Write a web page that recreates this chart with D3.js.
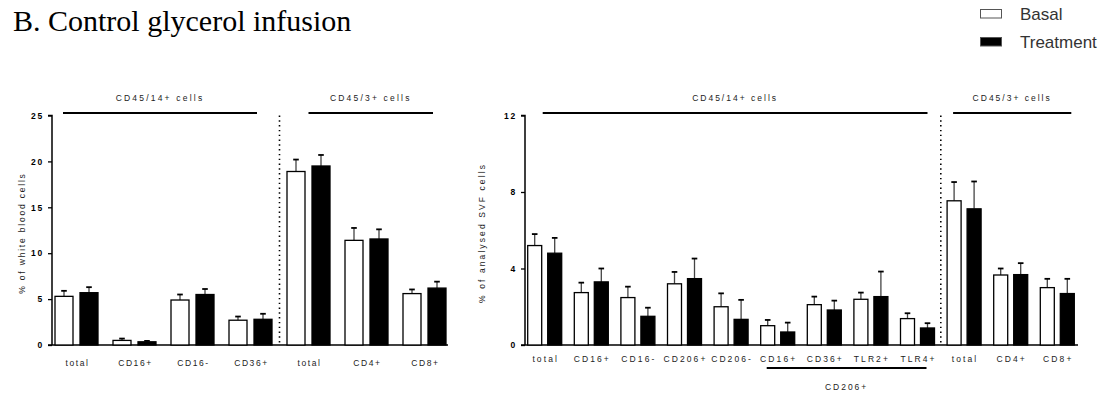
<!DOCTYPE html>
<html>
<head>
<meta charset="utf-8">
<script src="https://cdn.jsdelivr.net/npm/d3@7"></script>
<style>
  body { margin: 0; background: #fff; }
  svg text { font-family: "Liberation Sans", Arial, sans-serif; fill: #000; }
</style>
</head>
<body>
<svg id="chart" width="1118" height="396"></svg>
<script>
// ---- data ----
const leftCategories = ['total', 'CD16+', 'CD16-', 'CD36+', 'total', 'CD4+', 'CD8+']
const leftBasal      = [5.3, 0.5, 4.9, 2.7, 18.9, 11.4, 5.6]
const leftBasalErr   = [0.6, 0.2, 0.6, 0.4, 1.3, 1.35, 0.45]
const leftTreat      = [5.7, 0.35, 5.5, 2.8, 19.5, 11.55, 6.2]
const leftTreatErr   = [0.6, 0.1, 0.6, 0.6, 1.2, 1.05, 0.7]
const leftTicks      = [0, 5, 10, 15, 20, 25]

const rightCategories = ['total', 'CD16+', 'CD16-', 'CD206+', 'CD206-', 'CD16+', 'CD36+', 'TLR2+', 'TLR4+', 'total', 'CD4+', 'CD8+']
const rightBasal      = [5.2, 2.74, 2.48, 3.2, 2.0, 1.01, 2.11, 2.39, 1.38, 7.54, 3.66, 3.0]
const rightBasalErr   = [0.6, 0.52, 0.57, 0.62, 0.7, 0.3, 0.42, 0.35, 0.28, 0.98, 0.34, 0.46]
const rightTreat      = [4.8, 3.3, 1.5, 3.47, 1.34, 0.68, 1.83, 2.53, 0.89, 7.12, 3.68, 2.69]
const rightTreatErr   = [0.8, 0.7, 0.45, 1.05, 1.02, 0.49, 0.49, 1.31, 0.25, 1.43, 0.6, 0.77]
const rightTicks      = [0, 4, 8, 12]

const svg = d3.select('#chart')

// title + legend
svg.append('text')
  .attr('x', 13).attr('y', 31)
  .style('font-family', '"Liberation Serif", "Times New Roman", serif')
  .style('font-size', '30px')
  .text('B. Control glycerol infusion')

const legend = svg.append('g').attr('transform', 'translate(980, 9)')
;[['Basal', '#fff'], ['Treatment', '#000']].forEach((d, i) => {
  legend.append('rect')
    .attr('x', 0.5).attr('y', i * 28 + 0.5)
    .attr('width', 21).attr('height', 8.5)
    .attr('fill', d[1]).attr('stroke', '#555').attr('stroke-width', 1)
  legend.append('text')
    .attr('x', 40).attr('y', i * 28 + 11)
    .style('font-size', '17px')
    .style('fill', '#333')
    .text(d[0])
})

function drawPanel(opt) {
  const g = svg.append('g')
  const n = opt.categories.length
  const x = d3.scaleBand().domain(d3.range(n)).range(opt.xRange).padding(0)
  const y = d3.scaleLinear().domain([0, opt.yMax]).range([345, 115.5])
  const cx = i => x(i) + x.bandwidth() / 2

  // y axis
  const yAxis = d3.axisLeft(y).tickValues(opt.ticks).tickSize(4).tickPadding(4)
  const ya = g.append('g').attr('transform', `translate(${opt.axisX},0)`).call(yAxis)
  ya.select('.domain').attr('stroke-width', 1.5).attr('d', `M-4,${y(opt.yMax)}H0V${y(0)}`)
  ya.selectAll('.tick line').attr('stroke-width', 1.3)
  ya.selectAll('.tick text')
    .style('font-size', '8.5px').style('font-weight', 'bold')
    .style('letter-spacing', '1.8px').style('font-family', '"Liberation Sans", Arial, sans-serif')

  // x axis line
  g.append('line')
    .attr('x1', opt.axisX - 4).attr('x2', opt.axisEnd)
    .attr('y1', y(0)).attr('y2', y(0))
    .attr('stroke', '#000').attr('stroke-width', 1.5)

  // y label
  g.append('text')
    .attr('transform', `translate(${opt.labelX},${233}) rotate(-90)`)
    .attr('text-anchor', 'middle')
    .style('font-size', '8.5px').style('letter-spacing', opt.labelSpacing)
    .style('fill', '#222')
    .text(opt.yLabel)

  const series = [
    { vals: opt.basal, errs: opt.basalErr, fill: '#fff', off: -opt.gap / 2 - opt.barW },
    { vals: opt.treat, errs: opt.treatErr, fill: '#000', off: opt.gap / 2 }
  ]

  series.forEach(s => {
    // error bars (upper only)
    const eb = g.append('g')
    eb.selectAll('line.stem').data(s.vals).enter().append('line')
      .attr('x1', (d, i) => cx(i) + s.off + opt.barW / 2)
      .attr('x2', (d, i) => cx(i) + s.off + opt.barW / 2)
      .attr('y1', d => y(d))
      .attr('y2', (d, i) => y(d + s.errs[i]))
      .attr('stroke', '#444').attr('stroke-width', 1.3)
    eb.selectAll('line.cap').data(s.vals).enter().append('line')
      .attr('x1', (d, i) => cx(i) + s.off + opt.barW / 2 - 2.8)
      .attr('x2', (d, i) => cx(i) + s.off + opt.barW / 2 + 2.8)
      .attr('y1', (d, i) => y(d + s.errs[i]))
      .attr('y2', (d, i) => y(d + s.errs[i]))
      .attr('stroke', '#000').attr('stroke-width', 1.8)

    g.selectAll(null).data(s.vals).enter().append('rect')
      .attr('x', (d, i) => cx(i) + s.off)
      .attr('y', d => y(d))
      .attr('width', opt.barW)
      .attr('height', d => y(0) - y(d))
      .attr('fill', s.fill)
      .attr('stroke', '#000').attr('stroke-width', 1.3)
  })

  // category labels
  g.selectAll(null).data(opt.categories).enter().append('text')
    .attr('x', (d, i) => cx(i) + 1)
    .attr('y', opt.catY)
    .attr('text-anchor', 'middle')
    .style('font-size', '8.5px').style('letter-spacing', opt.catSpacing)
    .style('fill', '#222')
    .text(d => d)

  // dotted separator
  const sepX = x(opt.split)
  g.append('line')
    .attr('x1', sepX).attr('x2', sepX)
    .attr('y1', y(opt.yMax)).attr('y2', y(0))
    .attr('stroke', '#000').attr('stroke-width', 1.6)
    .attr('stroke-dasharray', '1.4,3.4')

  // group brackets on top
  opt.groups.forEach(gr => {
    const x1 = cx(gr.from) + gr.o1, x2 = cx(gr.to) + gr.o2
    g.append('line')
      .attr('x1', x1).attr('x2', x2).attr('y1', 113).attr('y2', 113)
      .attr('stroke', '#000').attr('stroke-width', 2)
    g.append('text')
      .attr('x', (x1 + x2) / 2 + gr.dx).attr('y', 101)
      .attr('text-anchor', 'middle')
      .style('font-size', '8.5px').style('letter-spacing', opt.headSpacing)
      .style('fill', '#222')
      .text(gr.label)
  })

  // bottom bracket
  if (opt.sub) {
    const x1 = cx(opt.sub.from) + opt.sub.o1, x2 = cx(opt.sub.to) + opt.sub.o2
    g.append('line')
      .attr('x1', x1).attr('x2', x2).attr('y1', 368).attr('y2', 368)
      .attr('stroke', '#000').attr('stroke-width', 2)
    g.append('text')
      .attr('x', (x1 + x2) / 2).attr('y', 390)
      .attr('text-anchor', 'middle')
      .style('font-size', '8.5px').style('letter-spacing', '2px')
      .style('fill', '#222')
      .text(opt.sub.label)
  }
}

drawPanel({
  categories: leftCategories, basal: leftBasal, basalErr: leftBasalErr,
  treat: leftTreat, treatErr: leftTreatErr, ticks: leftTicks, yMax: 25,
  xRange: [47.5, 453.5], axisX: 52, axisEnd: 448, barW: 18, gap: 7,
  labelX: 25, yLabel: '% of white blood cells', labelSpacing: '1.8px',
  catY: 366, catSpacing: '1.6px', split: 4, headSpacing: '2.2px',
  groups: [
    { from: 0, to: 3, o1: -13.5, o2: 6.5, label: 'CD45/14+ cells', dx: 0 },
    { from: 4, to: 6, o1: 0, o2: 8.5, label: 'CD45/3+ cells', dx: 0 }
  ]
})

drawPanel({
  categories: rightCategories, basal: rightBasal, basalErr: rightBasalErr,
  treat: rightTreat, treatErr: rightTreatErr, ticks: rightTicks, yMax: 12,
  xRange: [521.4, 1080.6], axisX: 525, axisEnd: 1078, barW: 14, gap: 6,
  labelX: 485, yLabel: '% of analysed SVF cells', labelSpacing: '2.1px',
  catY: 362, catSpacing: '2.1px', split: 9, headSpacing: '2px',
  groups: [
    { from: 0, to: 8, o1: -2, o2: 10, label: 'CD45/14+ cells', dx: 0 },
    { from: 9, to: 11, o1: -11, o2: 14, label: 'CD45/3+ cells', dx: 0 }
  ],
  sub: { from: 5, to: 8, o1: -11, o2: 9, label: 'CD206+' }
})
</script>
</body>
</html>
